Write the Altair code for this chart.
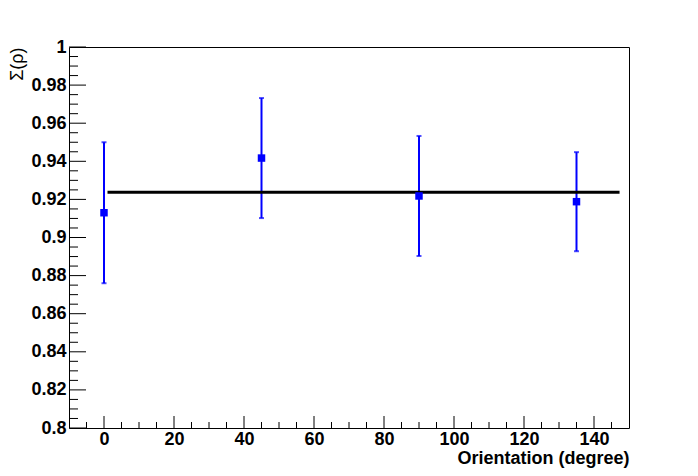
import altair as alt
import pandas as pd
import numpy as np

# Data
angles = [0, 45, 90, 135]
sigma = [0.913, 0.9417, 0.9218, 0.9188]
errors = [0.037, 0.0315, 0.0315, 0.026]
fit_value = 0.9237
fit_range = [1.0, 147.3]

x_domain = [-10, 150]
y_domain = [0.8, 1.0]
x_major = [0, 20, 40, 60, 80, 100, 120, 140]
x_minor = [v for v in range(-5, 150, 5) if v % 20 != 0]
y_major = [0.8, 0.82, 0.84, 0.86, 0.88, 0.9, 0.92, 0.94, 0.96, 0.98, 1.0]
y_minor = [round(0.8 + 0.005 * i, 4) for i in range(1, 40) if i % 4 != 0]

W, H = 560, 381
FONT = "Liberation Sans"

df = pd.DataFrame({
    "angle": angles,
    "sigma": sigma,
    "lo": [s - e for s, e in zip(sigma, errors)],
    "hi": [s + e for s, e in zip(sigma, errors)],
})
fit_df = pd.DataFrame({"angle": fit_range, "sigma": [fit_value, fit_value]})

xs = alt.Scale(domain=x_domain, nice=False, zero=False)
ys = alt.Scale(domain=y_domain, nice=False, zero=False)

x_axis = alt.Axis(
    values=x_major, ticks=False, grid=False, domain=False,
    labelFont=FONT, labelFontWeight="bold", labelFontSize=18, labelColor="black",
    labelPadding=2, labelFlush=False, labelOverlap=False,
    title="Orientation (degree)", titleFont=FONT, titleFontWeight="bold",
    titleFontSize=18, titleColor="black", titleAnchor="end",
    titleAlign="right", titleBaseline="alphabetic", titleX=W, titleY=35,
)
y_axis = alt.Axis(
    values=y_major, ticks=False, grid=False, domain=False,
    labelFont=FONT, labelFontWeight="bold", labelFontSize=18, labelColor="black",
    labelPadding=3, labelFlush=False, labelOverlap=False,
    labelExpr="format(datum.value, '.2~f')",
    title="Σ(ρ)", titleFont=FONT, titleFontWeight="normal", titleFontSize=18,
    titleColor="black", titleAngle=270, titleAlign="right", titleBaseline="middle",
    titleX=-52, titleY=0,
)

def X(field):
    return alt.X(field, type="quantitative", scale=xs, axis=x_axis)

def Y(field):
    return alt.Y(field, type="quantitative", scale=ys, axis=y_axis)

base = alt.Chart(df)

bars = base.mark_rule(color="#0000ff", strokeWidth=2).encode(
    x=X("angle"), y=Y("lo"), y2="hi:Q",
)
cap_lo = base.mark_tick(color="#0000ff", orient="horizontal", size=5, thickness=2).encode(
    x=X("angle"), y=Y("lo")
)
cap_hi = base.mark_tick(color="#0000ff", orient="horizontal", size=5, thickness=2).encode(
    x=X("angle"), y=Y("hi")
)
points = base.mark_square(color="#0000ff", size=56, opacity=1).encode(
    x=X("angle"), y=Y("sigma")
)
fit = alt.Chart(fit_df).mark_line(color="black", strokeWidth=3).encode(
    x=X("angle"), y=Y("sigma")
)

def xticks(vals, length):
    d = pd.DataFrame({"v": vals})
    return alt.Chart(d).mark_rule(color="black", strokeWidth=1).encode(
        x=X("v"), y=alt.value(H), y2=alt.value(H - length)
    )

def yticks(vals, length):
    d = pd.DataFrame({"v": vals})
    return alt.Chart(d).mark_rule(color="black", strokeWidth=1).encode(
        y=Y("v"), x=alt.value(0), x2=alt.value(length)
    )

chart = alt.layer(
    bars,
    xticks(x_major, 12), xticks(x_minor, 6),
    yticks(y_major, 17), yticks(y_minor, 9),
    fit, cap_lo, cap_hi, points,
).properties(
    width=W, height=H,
    autosize=alt.AutoSizeParams(type="none"),
    padding={"left": 61, "top": 39, "right": 40, "bottom": 40},
    background="white",
).configure_view(stroke="black", strokeWidth=1)

chart.save("out.html", embed_options={"renderer": "svg", "actions": False})
